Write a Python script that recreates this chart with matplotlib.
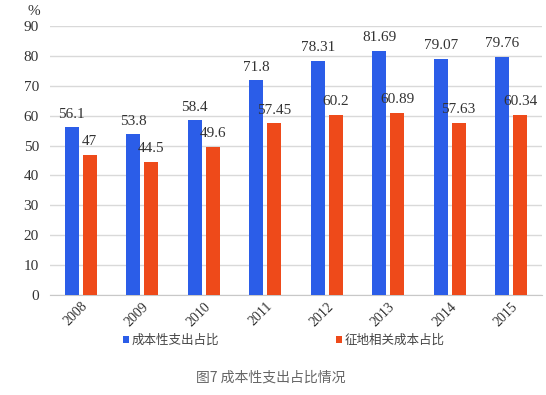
import matplotlib
matplotlib.use('Agg')
import matplotlib.pyplot as plt
import numpy as np

years = ['2008', '2009', '2010', '2011', '2012', '2013', '2014', '2015']
cost_share = [56.1, 53.8, 58.4, 71.8, 78.31, 81.69, 79.07, 79.76]
land_share = [47, 44.5, 49.6, 57.45, 60.2, 60.89, 57.63, 60.34]
cost_lbl = ['56.1', '53.8', '58.4', '71.8', '78.31', '81.69', '79.07', '79.76']
land_lbl = ['47', '44.5', '49.6', '57.45', '60.2', '60.89', '57.63', '60.34']

blue = '#2b5de8'
orange = '#ee4a1a'
serif = ['Liberation Serif', 'DejaVu Serif']
cjk = ['Noto Sans CJK SC', 'DejaVu Sans']

fig = plt.figure(figsize=(5.46, 3.95), dpi=100)
ax = fig.add_axes([0.0916, 0.2532, 0.9011, 0.6810])

x = np.arange(len(years))
w = 0.23
ax.bar(x - 0.145, cost_share, w, color=blue, zorder=3, label='成本性支出占比')
ax.bar(x + 0.145, land_share, w, color=orange, zorder=3, label='征地相关成本占比')

for i in range(len(years)):
    ax.text(x[i] - 0.145, cost_share[i] + 2.2, cost_lbl[i], ha='center', va='bottom',
            fontsize=11, family=serif, color='#333333')
    ax.text(x[i] + 0.145, land_share[i] + 2.2, land_lbl[i], ha='center', va='bottom',
            fontsize=11, family=serif, color='#333333')

ax.set_xlim(-0.5, 7.5)
ax.set_ylim(0, 90)
ax.set_yticks(range(0, 91, 10))
ax.grid(axis='y', color='#d9d9d9', linewidth=1, zorder=0)
for s in ['top', 'right', 'left']:
    ax.spines[s].set_visible(False)
ax.spines['bottom'].set_color('#c8c8c8')
ax.tick_params(axis='both', length=0, colors='#333333')
ax.tick_params(axis='y', pad=8)
ax.set_xticks(x)
ax.set_xticklabels(years, rotation=45, ha='right', rotation_mode='anchor', family=serif, fontsize=10)
for t in ax.get_yticklabels():
    t.set_family(serif)
    t.set_fontsize(11)
ax.text(-0.033, 1.03, '%', transform=ax.transAxes, ha='center', va='bottom',
        family=serif, fontsize=11, color='#333333')

fig.legend(loc='center left', bbox_to_anchor=(0.205, 0.138), ncol=2, frameon=False,
           prop={'family': cjk, 'size': 9}, handlelength=0.5, handleheight=0.5,
           handletextpad=0.2, columnspacing=9.3, labelcolor='#444444')

fig.text(0.495, 0.043, '图7 成本性支出占比情况', ha='center', va='center',
         family=cjk, fontsize=10, color='#666666')

fig.savefig('out.png', dpi=100)
